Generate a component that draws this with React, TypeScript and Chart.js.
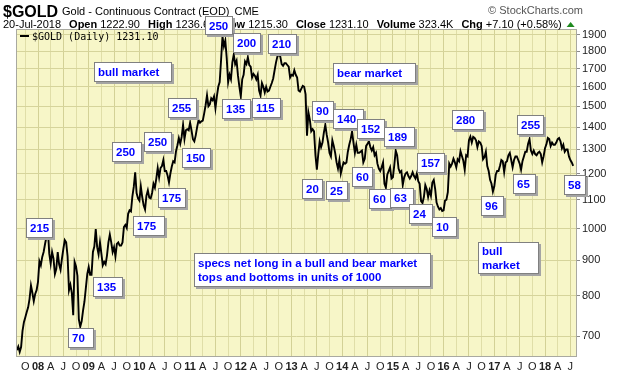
import React, { useEffect, useRef } from 'react';
import { Chart, registerables } from 'chart.js';

Chart.register(...registerables);

// ---- Data: gold closes, three samples per month (~1st, ~11th, ~21st) ----
const GOLD_2007 = [668, 676, 664, 675, 712, 733, 745, 758, 770, 792, 828, 808, 786, 805, 815]; // from Aug
const GOLD_2008 = [838, 897, 885, 910, 925, 950, 972, 998, 920, 890, 925, 905, 860, 875, 925, 888, 872, 905, 935, 962, 955, 912, 815, 830, 808, 750, 895, 882, 855, 740, 722, 735, 762, 785, 822, 860];
const GOLD_2009 = [880, 858, 858, 925, 942, 998, 940, 918, 955, 920, 885, 895, 888, 915, 955, 980, 955, 925, 940, 912, 950, 955, 945, 945, 955, 1005, 1012, 1002, 1050, 1062, 1058, 1112, 1148, 1205, 1125, 1105];
const GOLD_2010 = [1097, 1150, 1110, 1080, 1065, 1115, 1135, 1108, 1105, 1125, 1160, 1145, 1180, 1222, 1185, 1222, 1230, 1255, 1210, 1210, 1192, 1165, 1200, 1228, 1250, 1245, 1292, 1318, 1350, 1325, 1355, 1410, 1345, 1385, 1390, 1385];
const GOLD_2011 = [1420, 1385, 1345, 1335, 1362, 1400, 1432, 1420, 1427, 1430, 1465, 1505, 1555, 1500, 1510, 1540, 1530, 1550, 1490, 1550, 1600, 1625, 1750, 1890, 1830, 1865, 1760, 1625, 1665, 1640, 1735, 1780, 1725, 1745, 1660, 1600];
const GOLD_2012 = [1550, 1640, 1665, 1740, 1725, 1765, 1720, 1710, 1650, 1670, 1660, 1640, 1665, 1580, 1555, 1620, 1600, 1570, 1600, 1575, 1580, 1600, 1620, 1645, 1690, 1735, 1770, 1780, 1770, 1725, 1715, 1730, 1730, 1720, 1710, 1650];
const GOLD_2013 = [1665, 1660, 1690, 1665, 1650, 1580, 1575, 1590, 1605, 1600, 1560, 1360, 1470, 1435, 1380, 1390, 1380, 1275, 1215, 1280, 1335, 1310, 1330, 1375, 1410, 1365, 1330, 1285, 1270, 1340, 1315, 1285, 1245, 1220, 1255, 1200];
const GOLD_2014 = [1225, 1245, 1240, 1245, 1290, 1320, 1345, 1380, 1330, 1285, 1320, 1285, 1285, 1290, 1295, 1245, 1260, 1315, 1325, 1335, 1310, 1295, 1310, 1275, 1285, 1240, 1220, 1210, 1225, 1245, 1160, 1145, 1195, 1210, 1225, 1180];
const GOLD_2015 = [1185, 1235, 1295, 1275, 1220, 1205, 1210, 1155, 1185, 1200, 1205, 1190, 1180, 1190, 1205, 1190, 1180, 1200, 1170, 1160, 1095, 1088, 1110, 1155, 1140, 1110, 1135, 1115, 1165, 1175, 1140, 1090, 1075, 1065, 1070, 1060];
const GOLD_2016 = [1062, 1097, 1100, 1128, 1240, 1228, 1240, 1260, 1245, 1225, 1258, 1250, 1292, 1272, 1252, 1215, 1275, 1270, 1340, 1356, 1330, 1355, 1350, 1340, 1310, 1335, 1330, 1315, 1258, 1267, 1290, 1230, 1210, 1175, 1160, 1130];
const GOLD_2017 = [1150, 1195, 1210, 1210, 1230, 1255, 1250, 1205, 1245, 1250, 1275, 1285, 1255, 1225, 1255, 1270, 1270, 1255, 1240, 1215, 1250, 1270, 1290, 1290, 1325, 1345, 1295, 1280, 1295, 1280, 1275, 1285, 1290, 1280, 1245, 1270];
const GOLD_2018 = [1305, 1322, 1350, 1345, 1315, 1330, 1320, 1320, 1330, 1345, 1350, 1335, 1305, 1320, 1290, 1300, 1300, 1270, 1255, 1245, 1231.1]; // to 20-Jul
const FIRST_SLOT_2007 = 21; // Aug 1 (3 slots per month)
const YEARS = [2007, 2008, 2009, 2010, 2011, 2012, 2013, 2014, 2015, 2016, 2017, 2018];
const YEAR_SERIES = [GOLD_2007, GOLD_2008, GOLD_2009, GOLD_2010, GOLD_2011, GOLD_2012, GOLD_2013, GOLD_2014, GOLD_2015, GOLD_2016, GOLD_2017, GOLD_2018];

const PRICE_TICKS = [700, 800, 900, 1000, 1100, 1200, 1300, 1400, 1500, 1600, 1700, 1800, 1900];
const QUARTER_LABELS = ['', 'A', 'J', 'O'];

// annotation boxes: text, anchored at (decimal year, price)
const NOTES = [
  { t: 'bull market', x: 2009.105, y: 1737, w: 78, h: 20 },
  { t: '250', x: 2011.294, y: 2024, w: 28, h: 19 },
  { t: '200', x: 2011.846, y: 1913, w: 28, h: 20 },
  { t: '210', x: 2012.536, y: 1906, w: 29, h: 20 },
  { t: '255', x: 2010.564, y: 1542, w: 29, h: 20 },
  { t: '135', x: 2011.629, y: 1537, w: 29, h: 20 },
  { t: '115', x: 2012.221, y: 1542, w: 29, h: 20 },
  { t: '250', x: 2009.46, y: 1332, w: 30, h: 20 },
  { t: '250', x: 2010.091, y: 1377, w: 28, h: 20 },
  { t: '150', x: 2010.84, y: 1306, w: 29, h: 20 },
  { t: '175', x: 2010.367, y: 1144, w: 28, h: 20 },
  { t: '175', x: 2009.874, y: 1043, w: 32, h: 20 },
  { t: '215', x: 2007.763, y: 1035, w: 27, h: 20 },
  { t: '135', x: 2009.085, y: 851, w: 30, h: 20 },
  { t: '70', x: 2008.592, y: 719, w: 26, h: 20 },
  { t: 'specs net long in a bull and bear market\ntops and bottoms in units of 1000', x: 2011.077, y: 922, w: 237, h: 34 },
  { t: 'bear market', x: 2013.818, y: 1731, w: 83, h: 20 },
  { t: '90', x: 2013.404, y: 1526, w: 22, h: 20 },
  { t: '140', x: 2013.818, y: 1486, w: 31, h: 20 },
  { t: '152', x: 2014.292, y: 1438, w: 28, h: 20 },
  { t: '189', x: 2014.824, y: 1400, w: 31, h: 20 },
  { t: '280', x: 2016.166, y: 1481, w: 32, h: 20 },
  { t: '255', x: 2017.448, y: 1457, w: 27, h: 20 },
  { t: '157', x: 2015.475, y: 1285, w: 28, h: 20 },
  { t: '60', x: 2014.193, y: 1226, w: 21, h: 20 },
  { t: '65', x: 2017.369, y: 1198, w: 23, h: 20 },
  { t: '58', x: 2018.375, y: 1194, w: 22, h: 20 },
  { t: '20', x: 2013.207, y: 1179, w: 21, h: 20 },
  { t: '25', x: 2013.68, y: 1171, w: 22, h: 19 },
  { t: '60', x: 2014.529, y: 1140, w: 23, h: 20 },
  { t: '63', x: 2014.943, y: 1144, w: 24, h: 20 },
  { t: '24', x: 2015.318, y: 1085, w: 24, h: 20 },
  { t: '10', x: 2015.771, y: 1039, w: 25, h: 20 },
  { t: '96', x: 2016.738, y: 1114, w: 23, h: 20 },
  { t: 'bull\nmarket', x: 2016.679, y: 956, w: 61, h: 32 },
];

const SYMBOL = '$GOLD';
const TITLE = 'Gold - Continuous Contract (EOD)';
const EXCHANGE = 'CME';
const COPYRIGHT = '© StockCharts.com';
const QUOTE_DATE = '20-Jul-2018';
const QUOTE_LABELS = ['Open', 'High', 'Low', 'Close', 'Volume', 'Chg'];
const QUOTE_VALUES = ['1222.90', '1236.60', '1215.30', '1231.10', '323.4K', '+7.10 (+0.58%)'];
const LEGEND_TEXT = '$GOLD (Daily) 1231.10';

const X_MIN = 2007.566;
const X_MAX = 2018.631;
const Y_MIN = 653;
const Y_MAX = 1938;

const FONT = '"Liberation Sans", Arial, sans-serif';

function buildPoints() {
  const pts: { x: number; y: number }[] = [];
  YEARS.forEach((yr, k) => {
    const start = k === 0 ? FIRST_SLOT_2007 : 0;
    YEAR_SERIES[k].forEach((v, i) => pts.push({ x: yr + (start + i) / 36, y: v }));
  });
  return pts;
}

function xTickValues() {
  const vals: number[] = [];
  YEARS.forEach((yr) => {
    for (let q = 0; q < 4; q++) {
      const v = yr + q / 4;
      if (v >= X_MIN && v <= X_MAX) vals.push(v);
    }
  });
  return vals;
}

function quarterOf(v: number) {
  const yr = Math.floor(v + 1e-6);
  return { yr, q: Math.round((v - yr) * 4) };
}

const bgPlugin = {
  id: 'bg',
  beforeDraw(chart: any) {
    const { ctx, chartArea: a } = chart;
    ctx.save();
    ctx.fillStyle = '#ffffff';
    ctx.fillRect(0, 0, chart.width, chart.height);
    ctx.fillStyle = '#f7f6c8';
    ctx.fillRect(a.left, a.top, a.right - a.left, a.bottom - a.top);
    ctx.restore();
  },
};

const overlayPlugin = {
  id: 'overlay',
  afterDraw(chart: any) {
    const { ctx, chartArea: a } = chart;
    const xs = chart.scales.x;
    const ys = chart.scales.y;
    ctx.save();
    // plot frame
    ctx.strokeStyle = '#a9a9a0';
    ctx.lineWidth = 1;
    ctx.strokeRect(a.left + 0.5, a.top + 0.5, a.right - a.left - 1, a.bottom - a.top - 1);

    // header
    ctx.textBaseline = 'alphabetic';
    ctx.textAlign = 'left';
    ctx.fillStyle = '#000';
    ctx.font = `bold 16px ${FONT}`;
    ctx.fillText(SYMBOL, 3, 17);
    ctx.font = `11px ${FONT}`;
    ctx.fillText(TITLE, 62, 15);
    ctx.fillText(EXCHANGE, 62 + ctx.measureText(TITLE).width + 5, 15);
    ctx.fillStyle = '#555';
    ctx.textAlign = 'right';
    ctx.fillText(COPYRIGHT, 583, 14);
    ctx.textAlign = 'left';
    ctx.fillStyle = '#000';
    let x = 3;
    const yb = 28;
    ctx.font = `11px ${FONT}`;
    ctx.fillText(QUOTE_DATE, x, yb);
    x += ctx.measureText(QUOTE_DATE).width + 8;
    QUOTE_LABELS.forEach((lab, i) => {
      ctx.font = `bold 11px ${FONT}`;
      ctx.fillText(lab, x, yb);
      x += ctx.measureText(lab).width + 3;
      ctx.font = `11px ${FONT}`;
      ctx.fillText(QUOTE_VALUES[i], x, yb);
      x += ctx.measureText(QUOTE_VALUES[i]).width + 8;
    });
    ctx.fillStyle = '#1f8a1f';
    ctx.beginPath();
    ctx.moveTo(x - 3, yb - 1);
    ctx.lineTo(x + 5, yb - 1);
    ctx.lineTo(x + 1, yb - 6);
    ctx.closePath();
    ctx.fill();

    // legend
    ctx.fillStyle = '#000';
    ctx.fillRect(a.left + 4, a.top + 6, 9, 2);
    ctx.font = '10px "DejaVu Sans Mono", monospace';
    ctx.fillText(LEGEND_TEXT, a.left + 16, a.top + 11);

    // annotation boxes
    NOTES.forEach((n) => {
      const px = Math.round(xs.getPixelForValue(n.x));
      const py = Math.round(ys.getPixelForValue(n.y));
      ctx.fillStyle = '#a4a4a4';
      ctx.fillRect(px + 2, py + 2, n.w, n.h);
      ctx.fillStyle = '#ffffff';
      ctx.fillRect(px, py, n.w, n.h);
      ctx.strokeStyle = '#808080';
      ctx.lineWidth = 1;
      ctx.strokeRect(px + 0.5, py + 0.5, n.w - 1, n.h - 1);
      ctx.fillStyle = '#0000ff';
      ctx.font = `bold 11.5px ${FONT}`;
      ctx.textBaseline = 'middle';
      const lines = n.t.split('\n');
      if (lines.length === 1) {
        ctx.fillText(lines[0], px + 4, py + n.h / 2 + 1);
      } else {
        const lh = 14;
        const y0 = py + n.h / 2 - ((lines.length - 1) * lh) / 2 + 1;
        lines.forEach((l, i) => ctx.fillText(l, px + 4, y0 + i * lh));
      }
    });
    ctx.restore();
  },
};

export default function App() {
  const ref = useRef<HTMLCanvasElement | null>(null);
  useEffect(() => {
    if (!ref.current) return;
    const xticks = xTickValues();
    const chart = new Chart(ref.current, {
      type: 'line',
      data: {
        datasets: [
          {
            data: buildPoints(),
            borderColor: '#000000',
            borderWidth: 1.9,
            pointRadius: 0,
            tension: 0,
          },
        ],
      },
      options: {
        animation: false,
        responsive: false,
        devicePixelRatio: 1,
        parsing: false,
        layout: { padding: { left: 16, top: 29, right: 0, bottom: 0 } },
        plugins: { legend: { display: false }, tooltip: { enabled: false } },
        scales: {
          x: {
            type: 'linear',
            bounds: 'data',
            min: X_MIN,
            max: X_MAX,
            afterBuildTicks: (s: any) => {
              s.ticks = xticks.map((v) => ({ value: v }));
            },
            afterFit: (s: any) => {
              s.height = 19;
            },
            border: { display: false },
            grid: {
              drawTicks: false,
              lineWidth: 1,
              color: (c: any) => {
                const v = c.tick ? c.tick.value : 0;
                const { q } = quarterOf(v);
                return q % 2 === 0 ? '#d3d196' : '#e0dea8';
              },
            },
            ticks: {
              autoSkip: false,
              maxRotation: 0,
              padding: 3,
              color: '#222',
              font: (c: any) => {
                const v = c.tick ? c.tick.value : 0.5;
                const { q } = quarterOf(v);
                return { family: FONT, size: 11, weight: q === 0 ? 'bold' : 'normal' };
              },
              callback: (v: any) => {
                const { yr, q } = quarterOf(Number(v));
                return q === 0 ? String(yr % 100).padStart(2, '0') : QUARTER_LABELS[q];
              },
            },
          },
          y: {
            type: 'logarithmic',
            position: 'right',
            bounds: 'data',
            min: Y_MIN,
            max: Y_MAX,
            afterBuildTicks: (s: any) => {
              s.ticks = PRICE_TICKS.map((v) => ({ value: v }));
            },
            afterFit: (s: any) => {
              s.width = 43;
            },
            border: { display: false },
            grid: { color: '#d6d49b', lineWidth: 1, drawTicks: true, tickLength: 3, tickColor: '#8a8a8a' },
            ticks: {
              padding: 2,
              color: '#222',
              font: { family: FONT, size: 11 },
              callback: (v: any) => String(v),
            },
          },
        },
      },
      plugins: [bgPlugin, overlayPlugin],
    } as any);
    return () => chart.destroy();
  }, []);
  return (
    <div style={{ position: 'absolute', left: 0, top: 0, width: 620, height: 376, background: '#fff' }}>
      <canvas ref={ref} width={620} height={376} style={{ display: 'block' }} />
    </div>
  );
}
